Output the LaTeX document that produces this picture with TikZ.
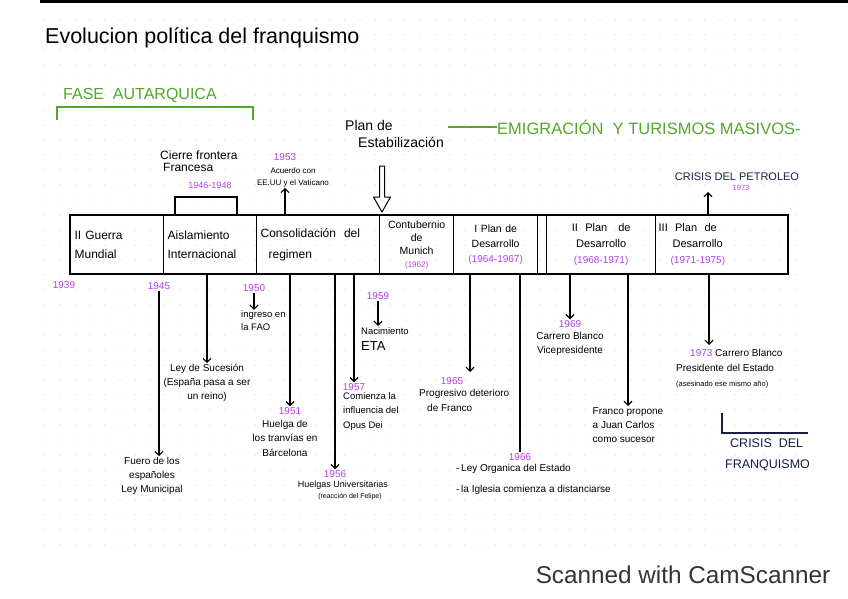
\documentclass[tikz,border=0pt]{standalone}
\usepackage{fontspec}
\setmainfont{Liberation Sans}
\usetikzlibrary{arrows.meta}
\tikzset{>={Straight Barb[length=4pt,width=8pt]}}
\definecolor{myviolet}{RGB}{176, 64, 230}
\definecolor{mygreen}{RGB}{82, 168, 42}
\definecolor{mynavy}{RGB}{22, 30, 72}
\definecolor{mydots}{RGB}{205, 205, 205}
\definecolor{mygray}{RGB}{52, 52, 52}

\begin{document}
\begin{tikzpicture}[x=1pt, y=-1pt,
  cell/.style={draw, line width=1.3pt, anchor=north west, minimum height=58pt, inner sep=3pt},
  yr/.style={text=myviolet, font=\fontsize{10}{11}\selectfont, inner sep=1pt},
  ev/.style={align=center, font=\fontsize{10}{14}\selectfont, inner sep=1pt},
  tl/.style={line width=1.1pt}]
\useasboundingbox (0,0) rectangle (848,599);
\foreach \x in {45,60,...,806}{
\foreach \y in {20,35,...,550}{
\fill[mydots] (\x,\y) circle (0.7pt);
}}
\fill (40,0) rectangle (848,3.5);
\node[anchor=base west, font=\fontsize{21.5}{24}\selectfont, inner sep=0] (title) at (45,44) {Evolucion política del franquismo};
% fases
\node[anchor=base west, text=mygreen, font=\fontsize{16}{18}\selectfont, inner sep=0] (fase) at (63,100) {FASE\ \ AUTARQUICA};
\draw[mygreen, line width=1.2pt] (57,120) -- (57,107) -- (253,107) -- (253,120);
\coordinate (emstart) at (448,127);
\node[anchor=west, text=mygreen, font=\fontsize{16.5}{18}\selectfont, inner sep=0] (emig) at (497,127) {EMIGRACIÓN\ \ Y TURISMOS MASIVOS-};
\draw[mygreen, line width=1.2pt] (emstart) -- (emig.west);
% barra
\node[cell, minimum width=93pt, text width=85pt, align=left, font=\fontsize{12}{19}\selectfont] (c1) at (70,215) {II Guerra\\Mundial};
\node[cell, minimum width=93pt, text width=85pt, align=left, font=\fontsize{12}{19}\selectfont] (c2) at (163,215) {Aislamiento\\Internacional};
\node[cell, minimum width=123pt, text width=115pt, align=left, font=\fontsize{12}{21}\selectfont] (c3) at (256,215) {Consolidación\ \ del\\\hspace*{8pt}regimen};
\node[cell, minimum width=74pt, text width=68pt, align=center, font=\fontsize{10.5}{13}\selectfont] (c4) at (379,215) {Contubernio\\de\\Munich\\{\color{myviolet}\fontsize{8}{9}\selectfont(1962)}};
\node[cell, minimum width=84pt, text width=78pt, align=center, font=\fontsize{10.5}{15}\selectfont] (c5) at (453,215) {I Plan de\\Desarrollo\\{\color{myviolet}\fontsize{10}{11}\selectfont(1964-1967)}};
\node[cell, minimum width=9pt, inner sep=0] (cg) at (537,215) {};
\node[cell, minimum width=109pt, text width=103pt, align=center, font=\fontsize{11}{16}\selectfont] (c6) at (546,215) {II\ \ Plan\ \ \ de\\Desarrollo\\{\color{myviolet}\fontsize{10}{11}\selectfont(1968-1971)}};
\node[cell, minimum width=132pt, text width=126pt, align=left, font=\fontsize{11}{16}\selectfont] (c7) at (655,215) {III\ \ Plan\ \ de\\\hspace*{14pt}Desarrollo\\\hspace*{12pt}{\color{myviolet}\fontsize{10}{11}\selectfont(1971-1975)}};
\draw[line width=2.2pt] (c1.north west) rectangle (c7.south east);
% encima de la barra
\node[anchor=north west, align=left, font=\fontsize{14}{17}\selectfont, inner sep=0] (estab) at (345,120) {Plan de\\\hspace*{13pt}Estabilización};
\coordinate (estarrow) at (382,166);
\draw[line width=1pt, line join=round] (estarrow) ++(-2.5,0) -- ++(0,31) -- ++(-6,0) -- ++(8.5,15) -- ++(8.5,-15) -- ++(-6,0) -- ++(0,-31) -- cycle;
\node[anchor=north west, align=left, font=\fontsize{12}{12}\selectfont, inner sep=0] (cierre) at (160,151) {Cierre frontera\\\hspace*{3pt}Francesa};
\node[yr, font=\fontsize{9}{10}\selectfont] (y4648) at (210,185) {1946-1948};
\coordinate (fr1) at (175,197);
\coordinate (fr2) at (237,197);
\draw[tl] (fr1 |- c2.north) -- (fr1) -- (fr2) -- (fr2 |- c2.north);
\node[yr] (y53) at (285,157) {1953};
\node[ev, font=\fontsize{8}{12}\selectfont] (acuerdo) at (293,177) {Acuerdo con\\EE.UU y el Vaticano};
\draw[tl,->] (y53 |- c3.north) -- (y53 |- acuerdo.south);
\node[text=mynavy, font=\fontsize{11}{12}\selectfont, inner sep=0] (petro) at (737,177) {CRISIS DEL PETROLEO};
\node[yr, font=\fontsize{7.5}{8}\selectfont] (y73a) at (741,188) {1973};
\coordinate (petarr) at (708,192);
\draw[tl,->] (petarr |- c7.north) -- (petarr);
% debajo de la barra
\node[yr] (y39) at (64,285) {1939};
\node[yr] (y45) at (159,286) {1945};
\node[yr] (y50) at (254,288) {1950};
\node[ev] (fuero) at (152,476) {Fuero de los\\españoles\\Ley Municipal};
\draw[tl,->] (y45.south) -- (y45.south |- fuero.north);
\node[ev] (suc) at (207,383) {Ley de Sucesión\\(España pasa a ser\\un reino)};
\draw[tl,->] (suc.north |- c2.south) -- (suc.north);
\node[ev, align=left, anchor=west, font=\fontsize{9.5}{13}\selectfont] (fao) at (240,321) {ingreso en\\la FAO};
\draw[tl,->] (y50.south) -- (y50.south |- fao.north);
\node[yr] (y51) at (290,411) {1951};
\node[ev, font=\fontsize{10}{14.5}\selectfont] (huelga) at (285,438) {Huelga de\\los tranvías en\\Bárcelona};
\draw[tl,->] (y51 |- c3.south) -- (y51.north);
\node[yr] (y56) at (335,474) {1956};
\node[ev, anchor=north, font=\fontsize{9}{11}\selectfont] (univ) at (343,480) {Huelgas Universitarias\\{\fontsize{7}{8}\selectfont\hspace*{14pt}(reacción del Felipe)}};
\draw[tl,->] (y56 |- c3.south) -- (y56.north);
\node[yr] (y57) at (354,387) {1957};
\node[ev, align=left, anchor=north west, font=\fontsize{9.5}{14.5}\selectfont] (opus) at (342,391) {Comienza la\\influencia del\\Opus Dei};
\draw[tl,->] (y57 |- c3.south) -- (y57.north);
\node[yr] (y59) at (378,296) {1959};
\node[anchor=north west, align=left, inner sep=1pt, font=\fontsize{9.5}{16}\selectfont] (eta) at (360,326) {Nacimiento\\{\fontsize{13}{14}\selectfont ETA}};
\draw[tl,->] (y59.south) -- (y59.south |- eta.north);
\node[yr] (y65) at (452,381) {1965};
\node[ev, align=left, anchor=north west, font=\fontsize{10}{15}\selectfont] (prog) at (418,388) {Progresivo deterioro\\\hspace*{8pt}de Franco};
\coordinate (a65) at (470,372);
\draw[tl,->] (a65 |- c5.south) -- (a65);
\node[yr] (y66) at (520,457) {1966};
\draw[tl] (y66 |- c5.south) -- (y66.north);
\node[ev, align=left, anchor=north west, font=\fontsize{10}{21}\selectfont] (ley66) at (455,463) {-\,Ley Organica del Estado\\-\,la Iglesia comienza a distanciarse};
\node[yr] (y69) at (570,324) {1969};
\node[ev] (vice) at (570,344) {Carrero Blanco\\Vicepresidente};
\draw[tl,->] (y69 |- c6.south) -- (y69.north);
\node[ev, align=left, anchor=north] (propone) at (628,406) {Franco propone\\a Juan Carlos\\como sucesor};
\draw[tl,->] (propone.north |- c6.south) -- (propone.north);
\node[ev, align=left, anchor=north west, font=\fontsize{10}{15}\selectfont] (pres) at (675,348) {\hspace*{14pt}{\color{myviolet}1973} Carrero Blanco\\Presidente del Estado\\{\fontsize{7.5}{9}\selectfont(asesinado ese mismo año)}};
\coordinate (a73) at (709,345);
\draw[tl,->] (a73 |- c7.south) -- (a73);
% crisis
\coordinate (cf1) at (722,413);
\coordinate (cf2) at (808,433);
\draw[mynavy, line width=1.2pt] (cf1) -- (cf1 |- cf2) -- (cf2);
\begin{scope}
\clip (700,436) rectangle (808,485);
\node[anchor=north west, align=left, text=mynavy, font=\fontsize{12.5}{21}\selectfont, inner sep=0] (crisis) at (725,439) {\hspace*{5pt}CRISIS\ \ DEL\\FRANQUISMO};
\end{scope}
\node[anchor=base, text=mygray, font=\fontsize{24.3}{26}\selectfont, inner sep=0] (scan) at (683,583) {Scanned with CamScanner};
\end{tikzpicture}
\end{document}
